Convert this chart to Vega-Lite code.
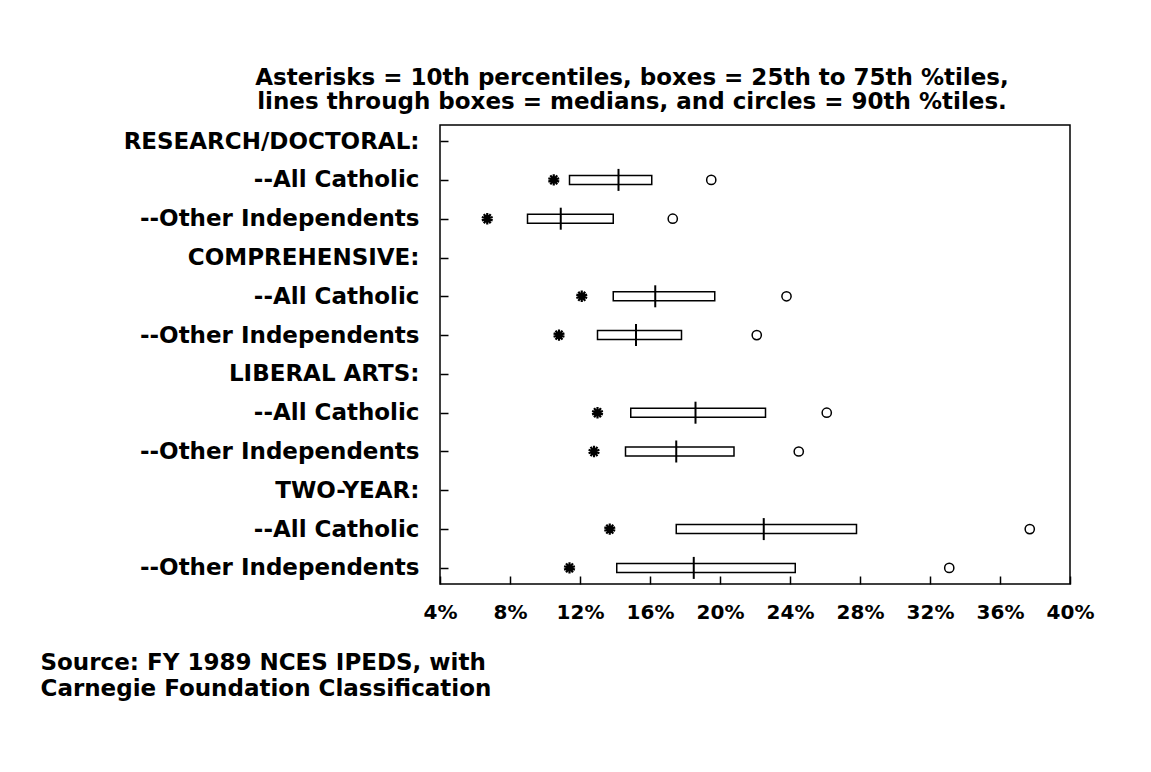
{
  "$schema": "https://vega.github.io/schema/vega-lite/v6.json",
  "width": 630,
  "height": 459,
  "autosize": {"type": "none"},
  "padding": {"left": 440, "top": 125, "right": 81, "bottom": 188},
  "background": "white",
  "title": {
    "text": ["Asterisks = 10th percentiles, boxes = 25th to 75th %tiles,", "lines through boxes = medians, and circles = 90th %tiles."],
    "anchor": "middle",
    "frame": "group",
    "dx": -123,
    "offset": 11,
    "font": "DejaVu Sans",
    "fontWeight": "bold",
    "fontSize": 23,
    "lineHeight": 24,
    "color": "black"
  },
  "data": {
    "values": [
      {"row": "R|--All Catholic", "p10": 10.5, "p25": 11.4, "p50": 14.2, "p75": 16.1, "p90": 19.5},
      {"row": "R|--Other Independents", "p10": 6.7, "p25": 9.0, "p50": 10.9, "p75": 13.9, "p90": 17.3},
      {"row": "C|--All Catholic", "p10": 12.1, "p25": 13.9, "p50": 16.3, "p75": 19.7, "p90": 23.8},
      {"row": "C|--Other Independents", "p10": 10.8, "p25": 13.0, "p50": 15.2, "p75": 17.8, "p90": 22.1},
      {"row": "L|--All Catholic", "p10": 13.0, "p25": 14.9, "p50": 18.6, "p75": 22.6, "p90": 26.1},
      {"row": "L|--Other Independents", "p10": 12.8, "p25": 14.6, "p50": 17.5, "p75": 20.8, "p90": 24.5},
      {"row": "T|--All Catholic", "p10": 13.7, "p25": 17.5, "p50": 22.5, "p75": 27.8, "p90": 37.7},
      {"row": "T|--Other Independents", "p10": 11.4, "p25": 14.1, "p50": 18.5, "p75": 24.3, "p90": 33.1}
    ]
  },
  "encoding": {
    "y": {
      "field": "row",
      "type": "nominal",
      "scale": {
        "type": "point",
        "domain": ["RESEARCH/DOCTORAL:", "R|--All Catholic", "R|--Other Independents", "COMPREHENSIVE:", "C|--All Catholic", "C|--Other Independents", "LIBERAL ARTS:", "L|--All Catholic", "L|--Other Independents", "TWO-YEAR:", "T|--All Catholic", "T|--Other Independents"],
        "padding": 0.415,
        "align": 0.5
      },
      "axis": {
        "title": null,
        "domain": false,
        "labelExpr": "indexof(datum.label, '|') >= 0 ? substring(datum.label, indexof(datum.label, '|') + 1) : datum.label",
        "labelFont": "DejaVu Sans",
        "labelFontWeight": "bold",
        "labelFontSize": 23,
        "labelColor": "black",
        "labelLimit": 0,
        "labelPadding": 29,
        "tickSize": -8,
        "tickWidth": 1.5,
        "tickColor": "black"
      }
    }
  },
  "layer": [
    {
      "mark": {"type": "bar", "size": 9, "fill": "white", "stroke": "black", "strokeWidth": 1.5},
      "encoding": {
        "x": {
          "field": "p25",
          "type": "quantitative",
          "scale": {"domain": [4, 40], "nice": false, "zero": false},
          "axis": {
            "values": [4, 8, 12, 16, 20, 24, 28, 32, 36, 40],
            "labelExpr": "datum.value + '%'",
            "grid": false,
            "domain": false,
            "tickSize": -8,
            "tickWidth": 1.5,
            "tickColor": "black",
            "labelFont": "DejaVu Sans",
            "labelFontWeight": "bold",
            "labelFontSize": 20,
            "labelColor": "black",
            "labelPadding": 26,
            "labelFlush": false,
            "title": ["Source: FY 1989 NCES IPEDS, with", "Carnegie Foundation Classification"],
            "titleX": -400,
            "titleY": 67,
            "titleAlign": "left",
            "titleBaseline": "top",
            "titleLineHeight": 26,
            "titleFont": "DejaVu Sans",
            "titleFontWeight": "bold",
            "titleFontSize": 23,
            "titleColor": "black"
          }
        },
        "x2": {"field": "p75"}
      }
    },
    {
      "mark": {"type": "tick", "orient": "vertical", "size": 22, "thickness": 2, "color": "black", "opacity": 1},
      "encoding": {"x": {"field": "p50", "type": "quantitative"}}
    },
    {
      "mark": {"type": "point", "shape": "M0,-1L0,1M-0.95,-0.3L0.95,0.3M-0.95,0.3L0.95,-0.3M-0.6,-0.8L0.6,0.8M-0.6,0.8L0.6,-0.8", "filled": false, "stroke": "black", "strokeWidth": 2.2, "size": 130, "opacity": 1},
      "encoding": {"x": {"field": "p10", "type": "quantitative"}}
    },
    {
      "mark": {"type": "point", "shape": "circle", "filled": false, "stroke": "black", "strokeWidth": 1.5, "size": 85, "opacity": 1},
      "encoding": {"x": {"field": "p90", "type": "quantitative"}}
    }
  ],
  "config": {
    "view": {"stroke": "black", "strokeWidth": 1.5},
    "axis": {"grid": false}
  }
}
